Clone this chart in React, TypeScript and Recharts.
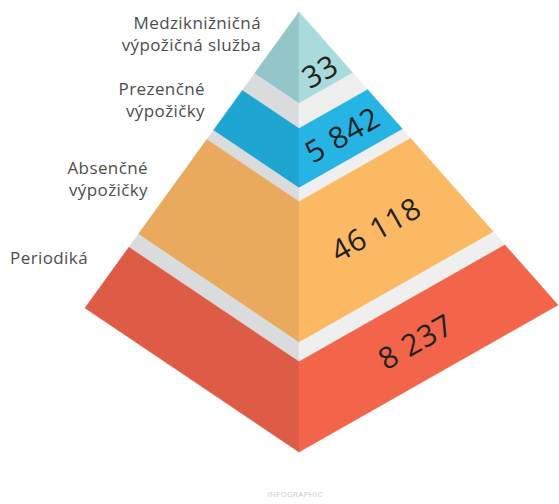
import React from "react";
import { ComposedChart, Scatter, XAxis, YAxis } from "recharts";

// ---- data ----
const categories = [
  "Medziknižničná výpožičná služba",
  "Prezenčné výpožičky",
  "Absenčné výpožičky",
  "Periodiká",
];
const labelLines = [
  ["Medziknižničná", "výpožičná služba"],
  ["Prezenčné", "výpožičky"],
  ["Absenčné", "výpožičky"],
  ["Periodiká"],
];
const values = [33, 5842, 46118, 8237];

// ---- layout (chart units = pixels, margin 0) ----
const W = 559;
const H = 504;
const APEX = { x: 299, y: 12 };
const BASE_LEFT = { x: 85, y: 308 };
const BASE_FRONT = { x: 299, y: 452 };
const BASE_RIGHT = { x: 558, y: 305 };
const tierSpans = [
  [0, 0.208],
  [0.265, 0.4],
  [0.431, 0.751],
  [0.795, 1],
];
const valueAnchorT = [0.16, 0.333, 0.591, 0.8975];
const labelAnchors = [
  [261, 22],
  [205, 88],
  [148, 167],
  [88, 257],
];

// ---- styles ----
const LEFT_COLORS = ["#93c6c8", "#1fa5d2", "#e9aa5e", "#de5b45"];
const RIGHT_COLORS = ["#a9dbdc", "#26b4e4", "#fcb964", "#f2654a"];
const GAP_LEFT = "#d9dbdc";
const GAP_RIGHT = "#efefef";
const FONT = "'Open Sans', sans-serif";

type P = { x: number; y: number };
const lerp = (a: P, b: P, t: number): P => ({
  x: a.x + (b.x - a.x) * t,
  y: a.y + (b.y - a.y) * t,
});

const faceQuad = (corner: P, t0: number, t1: number): P[] => [
  lerp(APEX, corner, t0),
  lerp(APEX, BASE_FRONT, t0),
  lerp(APEX, BASE_FRONT, t1),
  lerp(APEX, corner, t1),
];

type Face = { key: string; pts: P[]; fill: string };
const faces: Face[] = [];
tierSpans.forEach(([t0, t1], i) => {
  faces.push({ key: `l${i}`, pts: faceQuad(BASE_LEFT, t0, t1), fill: LEFT_COLORS[i] });
  faces.push({ key: `r${i}`, pts: faceQuad(BASE_RIGHT, t0, t1), fill: RIGHT_COLORS[i] });
  if (i < tierSpans.length - 1) {
    const g0 = t1;
    const g1 = tierSpans[i + 1][0];
    faces.push({ key: `gl${i}`, pts: faceQuad(BASE_LEFT, g0, g1), fill: GAP_LEFT });
    faces.push({ key: `gr${i}`, pts: faceQuad(BASE_RIGHT, g0, g1), fill: GAP_RIGHT });
  }
});

const faceAngle =
  (Math.atan2(BASE_RIGHT.y - BASE_FRONT.y, BASE_RIGHT.x - BASE_FRONT.x) * 180) / Math.PI;

const fmt = (v: number) => String(v).replace(/\B(?=(\d{3})+(?!\d))/g, " ");

const valuePoints = values.map((v, i) => {
  const t = valueAnchorT[i];
  const a = lerp(APEX, BASE_FRONT, t);
  const b = lerp(APEX, BASE_RIGHT, t);
  return { x: (a.x + b.x) / 2, y: (a.y + b.y) / 2, text: fmt(v) };
});

const labelPoints = categories.map((c, i) => ({
  x: labelAnchors[i][0],
  y: labelAnchors[i][1],
  name: c,
  lines: labelLines[i],
}));

const Hidden = () => <g />;

const ValueShape = (props: any) => {
  const { cx, cy, payload } = props;
  return (
    <text
      x={cx}
      y={cy}
      textAnchor="middle"
      dominantBaseline="central"
      fontFamily={FONT}
      fontSize={30}
      letterSpacing={0.8}
      fill="#222"
      transform={`rotate(${faceAngle}, ${cx}, ${cy})`}
    >
      {payload.text}
    </text>
  );
};

const LabelShape = (props: any) => {
  const { cx, cy, payload } = props;
  return (
    <text
      x={cx}
      y={cy}
      textAnchor="end"
      fontFamily={FONT}
      fontSize={17}
      letterSpacing={0.4}
      fill="#4d4d4d"
    >
      {payload.lines.map((ln: string, k: number) => (
        <tspan key={k} x={cx} y={cy + k * 22} dominantBaseline="central">
          {ln}
        </tspan>
      ))}
    </text>
  );
};

export default function App() {
  return (
    <div style={{ position: "absolute", left: 0, top: 0, background: "#fff" }}>
      <ComposedChart width={W} height={H} margin={{ top: 0, right: 0, bottom: 0, left: 0 }}>
        <XAxis type="number" dataKey="x" domain={[0, W]} hide allowDataOverflow />
        <YAxis type="number" dataKey="y" domain={[0, H]} reversed hide allowDataOverflow />
        {faces.map((f) => (
          <Scatter
            key={f.key}
            data={f.pts}
            isAnimationActive={false}
            shape={Hidden}
            line={(lp: any) => (
              <polygon
                points={(lp.points || []).map((p: P) => `${p.x},${p.y}`).join(" ")}
                fill={f.fill}
                stroke={f.fill}
                strokeWidth={0.6}
              />
            )}
          />
        ))}
        <Scatter data={valuePoints} isAnimationActive={false} shape={ValueShape} />
        <Scatter data={labelPoints} isAnimationActive={false} shape={LabelShape} />
      </ComposedChart>
      <div
        style={{
          position: "absolute",
          left: 0,
          top: 488,
          width: 590,
          textAlign: "center",
          fontFamily: FONT,
          fontSize: 8,
          letterSpacing: 0.3,
          color: "#cccccc",
        }}
      >
        INFOGRAPHIC
      </div>
    </div>
  );
}
